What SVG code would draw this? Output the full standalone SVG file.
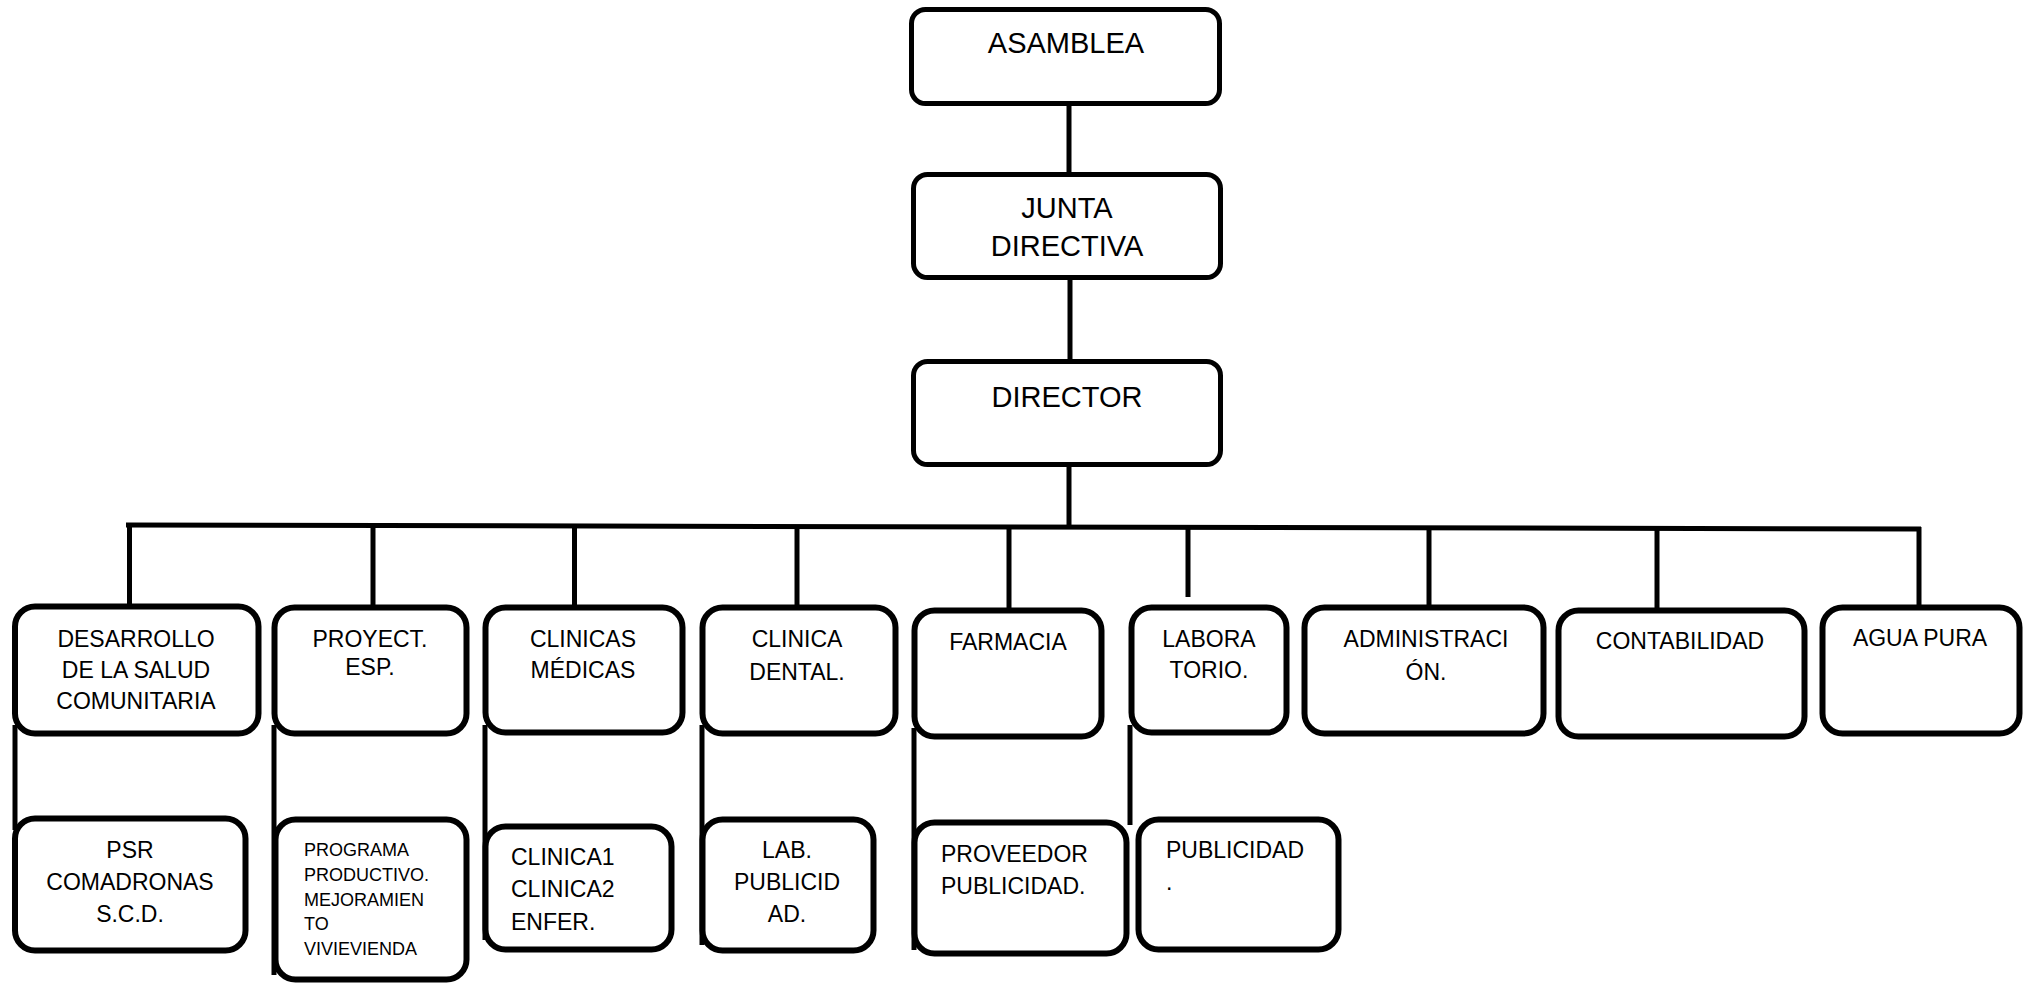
<svg xmlns="http://www.w3.org/2000/svg" width="2031" height="984" viewBox="0 0 2031 984">
<style>
.bx{fill:#fff;stroke:#000;stroke-width:6}
.tb{fill:#fff;stroke:#000;stroke-width:5}
.ln{stroke:#000;stroke-width:5;fill:none}
text{font-family:"Liberation Sans",Arial,sans-serif;fill:#000}
.t1{font-size:29px;text-anchor:middle}
.t2{font-size:23px;text-anchor:middle}
.t3{font-size:23px}
.t4{font-size:18px}
</style>
<rect width="2031" height="984" fill="#fff"/>
<g id="connectors">
<line class="ln" x1="1069" y1="104" x2="1069" y2="175"/>
<line class="ln" x1="1070" y1="278" x2="1070" y2="362"/>
<line class="ln" x1="1069" y1="465" x2="1069" y2="526"/>
<line class="ln" x1="126" y1="525" x2="1921" y2="529"/>
<line class="ln" x1="129.5" y1="525" x2="129.5" y2="606"/>
<line class="ln" x1="373" y1="526" x2="373" y2="607"/>
<line class="ln" x1="574.5" y1="526" x2="574.5" y2="607"/>
<line class="ln" x1="797" y1="527" x2="797" y2="608"/>
<line class="ln" x1="1009" y1="527" x2="1009" y2="610"/>
<line class="ln" x1="1188" y1="527" x2="1188" y2="597"/>
<line class="ln" x1="1429" y1="528" x2="1429" y2="607"/>
<line class="ln" x1="1657" y1="528" x2="1657" y2="610"/>
<line class="ln" x1="1919" y1="527" x2="1919" y2="607"/>
<line class="ln" x1="15" y1="725" x2="15" y2="830"/>
<line class="ln" x1="274" y1="725" x2="274" y2="975"/>
<line class="ln" x1="485" y1="725" x2="485" y2="940"/>
<line class="ln" x1="702" y1="725" x2="702" y2="945"/>
<line class="ln" x1="914" y1="728" x2="914" y2="950"/>
<line class="ln" x1="1130" y1="725" x2="1130" y2="825"/>
</g>
<g id="asamblea"><rect class="tb" x="911.5" y="9.5" width="308" height="94" rx="14"/><text class="t1" x="1066" y="53">ASAMBLEA</text></g>
<g id="junta"><rect class="tb" x="913.5" y="174.5" width="307" height="103" rx="14"/><text class="t1" x="1067" y="218">JUNTA</text><text class="t1" x="1067" y="256">DIRECTIVA</text></g>
<g id="director"><rect class="tb" x="913.5" y="361.5" width="307" height="103" rx="14"/><text class="t1" x="1067" y="407">DIRECTOR</text></g>
<g id="desarrollo"><rect class="bx" x="15" y="606.5" width="243.5" height="127" rx="20"/><text class="t2" x="136" y="647">DESARROLLO</text><text class="t2" x="136" y="678">DE LA SALUD</text><text class="t2" x="136" y="709">COMUNITARIA</text></g>
<g id="proyect"><rect class="bx" x="274.5" y="607.5" width="192" height="126" rx="20"/><text class="t2" x="370" y="647">PROYECT.</text><text class="t2" x="370" y="675">ESP.</text></g>
<g id="clinicas"><rect class="bx" x="485.5" y="607.5" width="197" height="125" rx="20"/><text class="t2" x="583" y="647">CLINICAS</text><text class="t2" x="583" y="678">MÉDICAS</text></g>
<g id="dental"><rect class="bx" x="702.5" y="607.5" width="193" height="126" rx="20"/><text class="t2" x="797" y="647">CLINICA</text><text class="t2" x="797" y="680">DENTAL.</text></g>
<g id="farmacia"><rect class="bx" x="914.5" y="610.5" width="187" height="126" rx="20"/><text class="t2" x="1008" y="650">FARMACIA</text></g>
<g id="laboratorio"><rect class="bx" x="1131.5" y="607.5" width="155" height="125" rx="20"/><text class="t2" x="1209" y="647">LABORA</text><text class="t2" x="1209" y="678">TORIO.</text></g>
<g id="administracion"><rect class="bx" x="1304.5" y="607.5" width="239" height="126" rx="20"/><text class="t2" x="1426" y="647">ADMINISTRACI</text><text class="t2" x="1426" y="680">ÓN.</text></g>
<g id="contabilidad"><rect class="bx" x="1558.5" y="610.5" width="246" height="126" rx="20"/><text class="t2" x="1680" y="649">CONTABILIDAD</text></g>
<g id="agua"><rect class="bx" x="1822.5" y="607.5" width="197" height="126" rx="20"/><text class="t2" x="1920" y="646">AGUA PURA</text></g>
<g id="psr"><rect class="bx" x="15" y="818.5" width="230.5" height="132" rx="20"/><text class="t2" x="130" y="858">PSR</text><text class="t2" x="130" y="890">COMADRONAS</text><text class="t2" x="130" y="922">S.C.D.</text></g>
<g id="programa"><rect class="bx" x="275.5" y="819.5" width="191" height="160" rx="20"/><text class="t4" x="304" y="856">PROGRAMA</text><text class="t4" x="304" y="881">PRODUCTIVO.</text><text class="t4" x="304" y="906">MEJORAMIEN</text><text class="t4" x="304" y="930">TO</text><text class="t4" x="304" y="955">VIVIEVIENDA</text></g>
<g id="clinica12"><rect class="bx" x="485.5" y="826.5" width="186" height="123" rx="20"/><text class="t3" x="511" y="865">CLINICA1</text><text class="t3" x="511" y="897">CLINICA2</text><text class="t3" x="511" y="930">ENFER.</text></g>
<g id="lab"><rect class="bx" x="702.5" y="819.5" width="171" height="131" rx="20"/><text class="t2" x="787" y="858">LAB.</text><text class="t2" x="787" y="890">PUBLICID</text><text class="t2" x="787" y="922">AD.</text></g>
<g id="proveedor"><rect class="bx" x="914.5" y="822.5" width="212" height="131" rx="20"/><text class="t3" x="941" y="862">PROVEEDOR</text><text class="t3" x="941" y="894">PUBLICIDAD.</text></g>
<g id="publicidad"><rect class="bx" x="1138.5" y="819.5" width="200" height="130" rx="20"/><text class="t3" x="1166" y="858">PUBLICIDAD</text><text class="t3" x="1166" y="890">.</text></g>
</svg>
